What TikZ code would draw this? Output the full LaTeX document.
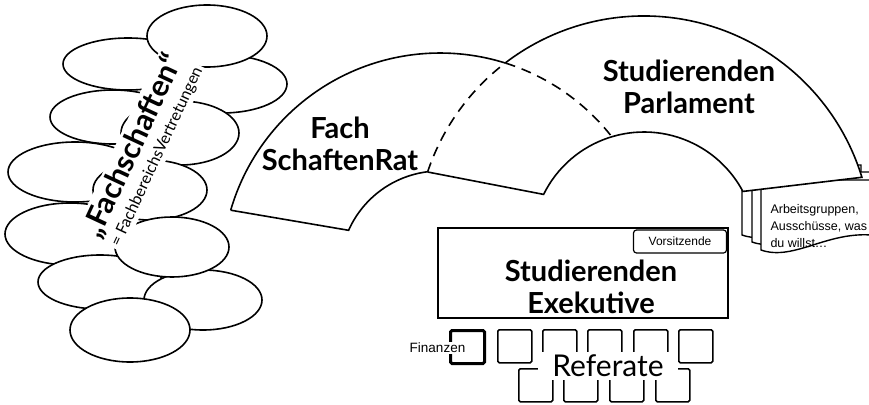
\documentclass[tikz,border=0pt]{standalone}
\usepackage{fontspec}
\setmainfont{Lato}
\newfontfamily\arialfont{Liberation Sans}

\tikzset{
  blob/.style={draw, fill=white, line width=1.6pt},
  ringline/.style={line width=1.6pt},
  biglabel/.style={font=\bfseries\fontsize{29}{32}\selectfont, align=center},
  smalllabel/.style={font=\arialfont\fontsize{12.5}{17}\selectfont, align=left},
  referat/.style={draw, line width=1.6pt, rounded corners=1.5pt, minimum width=34pt,
    minimum height=33pt, inner sep=0pt, anchor=north west}
}

\begin{document}
\begin{tikzpicture}[x=1pt,y=-1pt]
\clip (0,0) rectangle (869,404);
\fill[white] (0,0) rectangle (869,404);

\foreach \cx/\cy/\rx/\ry in {128/64/65/26, 222/84/65/29, 207/36/60/31,
    113/117/63/27, 180/133/59/32, 75/172/67/30, 150/190/57/30,
    70/234/65/31, 100/282/62/27, 203/300/59/30, 172/247/57/30, 130/330/60/32}
	\draw[blob] (\cx,\cy) ellipse [x radius=\rx, y radius=\ry];

\node[rotate=65, fill=white, align=center, inner sep=2pt] (fachschaften) at (142,150)
  {{\bfseries\fontsize{30}{30}\selectfont „Fachschaften“}\\[4pt]
   {\fontsize{16}{16}\selectfont = FachbereichsVertretungen}};

\foreach \dx/\dy in {-19/-15, -9/-8, 0/0}
	\draw[fill=white, line width=1.4pt, shift={(\dx,\dy)}] (761,180) -- (761,250)
	  .. controls (795,262) and (830,228) .. (880,236) -- (880,180) -- cycle;
\node[smalllabel, anchor=north west] (arbeit) at (767,201)
  {Arbeitsgruppen,\\Ausschüsse, was\\du willst…};

\fill[white] (230.7,210.2) arc[start angle=-163.8, end angle=-38, radius=218]
  arc[start angle=-106.7, end angle=-153.7, radius=112] -- (427.6,172)
  arc[start angle=-97.1, end angle=-156, radius=100] -- cycle;
\fill[white] (427.6,172) arc[start angle=-161.6, end angle=-17, radius=228]
  -- (742.9,191.4) arc[start angle=-28, end angle=-153.7, radius=112] -- cycle;

\draw[ringline] (230.7,210.2) -- (348.6,230.3) arc[start angle=-156, end angle=-97.1, radius=100];
\draw[ringline] (230.7,210.2) arc[start angle=-163.8, end angle=-72.5, radius=218] coordinate (cross);
\draw[ringline, dash pattern=on 10pt off 7pt] (cross) arc[start angle=-72.5, end angle=-38, radius=218];
\draw[ringline] (427.6,172) -- (543.6,194.4) arc[start angle=-153.7, end angle=-28, radius=112]
  -- (861.9,177.3) arc[start angle=-17, end angle=-127.4, radius=228];
\draw[ringline, dash pattern=on 10pt off 7pt] (427.6,172) arc[start angle=-161.6, end angle=-127.4, radius=228];

\node[biglabel] (fsr) at (340,144) {Fach\\SchaftenRat};
\node[biglabel] (stupa) at (689,87) {Studierenden\\Parlament};

\node[draw, line width=1.8pt, minimum width=290pt, minimum height=90pt] (asta) at (583,273) {};
\node[draw, rounded corners=3pt, line width=1.2pt, minimum width=93pt, minimum height=23pt,
  font=\arialfont\fontsize{12}{13}\selectfont] (vorsitz) at (680,241.5) {Vorsitzende};
\node[biglabel] (exek) at (591,287) {Studierenden\\Exekutive};

\node[referat, line width=3pt] (finanzbox) at (449,329) {};
\foreach \x [count=\i] in {497,542,587,633,678}
	\node[referat] (ref\i) at (\x,329) {};
\foreach \x [count=\i] in {518,563,609,655}
	\node[referat] (refu\i) at (\x,368) {};
\node[fill=white, inner sep=1pt, font=\arialfont\fontsize{13.5}{14}\selectfont] (finanzen) at (437.5,348) {Finanzen};
\node[fill=white, inner xsep=14pt, inner ysep=3pt, font=\fontsize{30}{30}\selectfont] (referate) at (608,366) {Referate};

\end{tikzpicture}
\end{document}
